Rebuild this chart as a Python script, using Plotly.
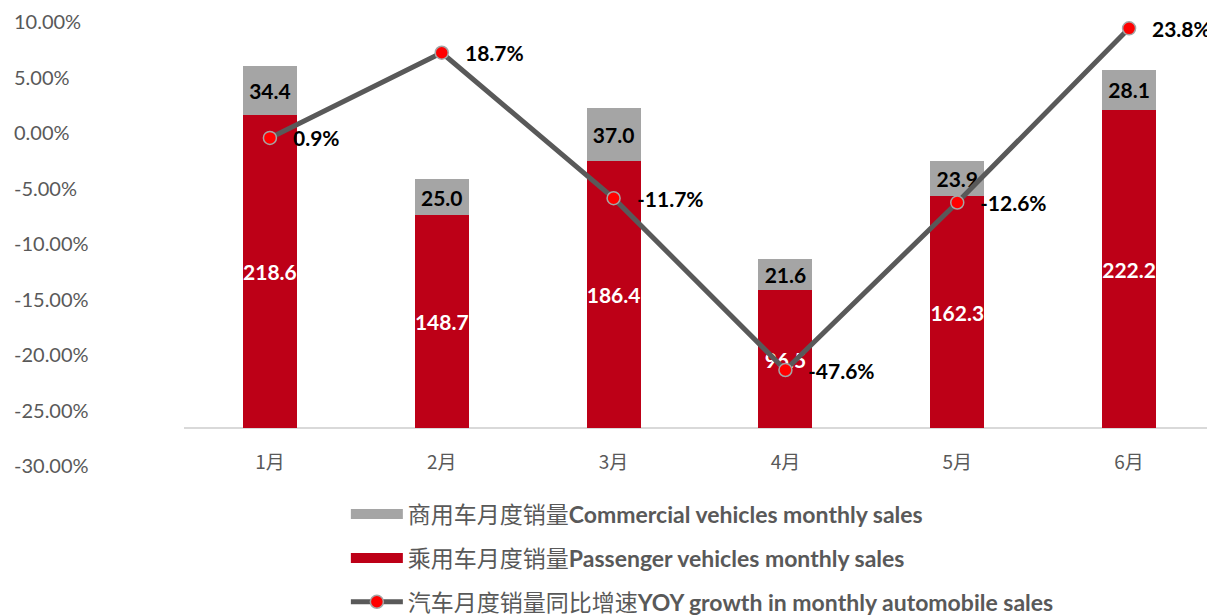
import plotly.graph_objects as go

# 月度数据
months = ['1月', '2月', '3月', '4月', '5月', '6月']
passenger = [218.6, 148.7, 186.4, 96.5, 162.3, 222.2]   # 乘用车月度销量
commercial = [34.4, 25.0, 37.0, 21.6, 23.9, 28.1]       # 商用车月度销量
yoy = [0.9, 18.7, -11.7, -47.6, -12.6, 23.8]            # 同比增速 (%)

# 左侧坐标轴刻度
pct_ticks = [0.10, 0.05, 0.0, -0.05, -0.10, -0.15, -0.20, -0.25, -0.30]

RED = '#BD0017'
GRAY = '#A5A5A5'
DARK = '#595959'
FONT = 'Lato, "Noto Sans CJK SC"'

name_c = '商用车月度销量<b>Commercial vehicles monthly sales</b>'
name_p = '乘用车月度销量<b>Passenger vehicles monthly sales</b>'
name_l = '汽车月度销量同比增速<b>YOY growth in monthly automobile sales</b>'

fig = go.Figure()

# 主坐标轴只用来显示百分比刻度
fig.add_trace(go.Scatter(
    x=months[:1], y=pct_ticks[:1], mode='markers',
    marker=dict(opacity=0), showlegend=False, hoverinfo='skip'
))

fig.add_trace(go.Bar(
    x=months, y=passenger, yaxis='y2', name=name_p, showlegend=False,
    marker=dict(color=RED, line=dict(width=0)),
    texttemplate='%{y:.1f}', textposition='inside', insidetextanchor='middle',
    textangle=0, textfont=dict(color='white', size=21, family=FONT, weight='bold')
))

fig.add_trace(go.Bar(
    x=months, y=commercial, yaxis='y2', name=name_c, showlegend=False,
    marker=dict(color=GRAY, line=dict(width=0)),
    texttemplate='%{y:.1f}', textposition='inside', insidetextanchor='middle',
    textangle=0, textfont=dict(color='black', size=21, family=FONT, weight='bold')
))

fig.add_trace(go.Scatter(
    x=months, y=yoy, yaxis='y3', mode='lines+markers', name=name_l,
    line=dict(color=DARK, width=5),
    marker=dict(color='#FF0000', size=13, line=dict(color=GRAY, width=1.5)),
    legendgroup='l', legendrank=3
))

# 图例色块 (宽矩形样式)
for nm, col, grp, rank in [(name_c, GRAY, 'c', 1), (name_p, RED, 'p', 2)]:
    fig.add_trace(go.Scatter(
        x=[None], y=[None], mode='lines', name=nm,
        line=dict(color=col, width=14), legendgroup=grp, legendrank=rank,
        hoverinfo='skip'
    ))

# 折线数据标签
for m, v in zip(months, yoy):
    fig.add_annotation(
        x=m, y=v, yref='y3', text=f'{v}%', showarrow=False,
        xanchor='left', xshift=21,
        font=dict(size=21, color='black', family=FONT, weight='bold')
    )

# 左侧刻度标签 (左对齐)
for t in pct_ticks:
    fig.add_annotation(
        x=0, xref='paper', y=t, yref='y', text=f'{t:.2%}', showarrow=False,
        xanchor='left', xshift=-172,
        font=dict(size=20, color=DARK, family=FONT)
    )

fig.update_layout(
    width=1207, height=607,
    margin=dict(l=176, r=0, t=13, b=150, autoexpand=False),
    plot_bgcolor='white', paper_bgcolor='white',
    barmode='stack', bargap=0.686,
    uniformtext=dict(minsize=21, mode='show'),
    font=dict(family=FONT, color=DARK),
    xaxis=dict(
        type='category', anchor='free', position=0.035,
        showgrid=False, showline=False, ticks='',
        tickfont=dict(size=19, color=DARK, family='"Noto Sans CJK SC"')
    ),
    yaxis=dict(
        range=[-0.30, 0.10], showgrid=False, zeroline=False,
        showticklabels=False, showline=False
    ),
    yaxis2=dict(
        range=[-25.6, 284.2], overlaying='y', showgrid=False,
        showticklabels=False, zeroline=True, zerolinecolor='#D9D9D9', zerolinewidth=1.5
    ),
    yaxis3=dict(
        range=[-67.45, 25.33], overlaying='y', showgrid=False,
        showticklabels=False, zeroline=False
    ),
    legend=dict(
        orientation='v', x=0.157, xanchor='left', y=-0.062, yanchor='top',
        font=dict(size=23, color=DARK, family=FONT),
        tracegroupgap=11, itemwidth=52
    ),
    showlegend=True
)

fig.write_html('out.html')
